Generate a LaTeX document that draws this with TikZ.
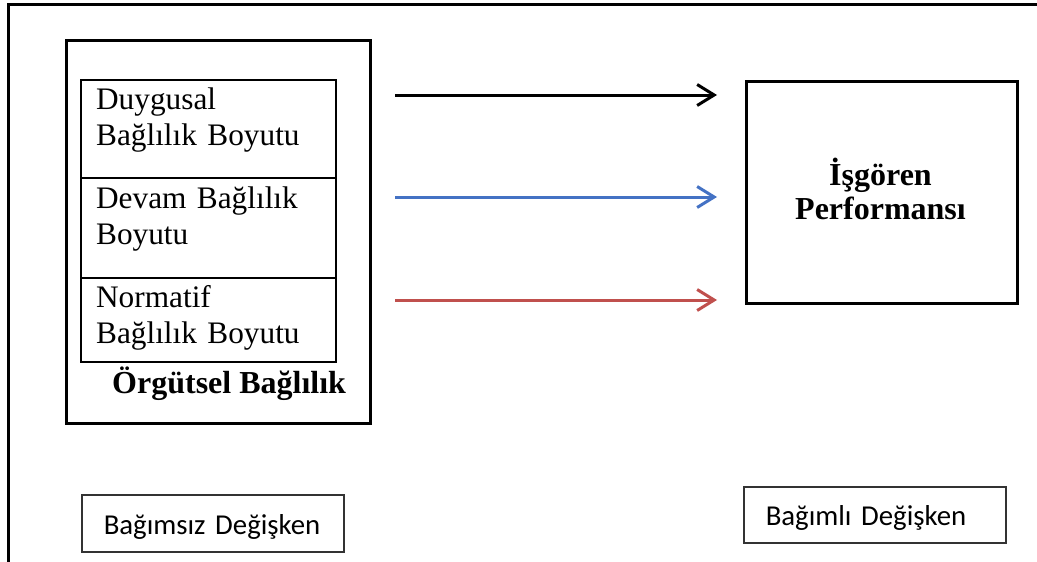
\documentclass[tikz,border=0pt]{standalone}
\usepackage{fontspec}
\setmainfont{Liberation Serif}
\newfontfamily\calibri{Carlito}
\usetikzlibrary{arrows.meta}
\definecolor{arrowblue}{RGB}{68,114,196}
\definecolor{arrowred}{RGB}{192,80,77}

\begin{document}
\begin{tikzpicture}[x=1pt,y=-1pt,
    frameline/.style={line width=3pt},
    bigbox/.style={draw,line width=3pt,anchor=north west,inner sep=0pt},
    dimbox/.style={draw,line width=2.3pt,anchor=base west,inner xsep=15pt,inner ysep=0pt,text width=225pt,align=left,font=\fontsize{31.3}{36}\selectfont},
    varbox/.style={draw=black!80,line width=1.5pt,anchor=base west,inner xsep=22pt,inner ysep=0pt,text width=218pt,align=left,text depth=18pt,font=\calibri\fontsize{28.8}{34}\selectfont},
    boldlabel/.style={font=\bfseries\fontsize{32}{34}\selectfont,inner sep=0pt},
    link/.style={line width=3pt,-{Straight Barb[length=17pt,width=21pt]}}]
    \useasboundingbox (0,0) rectangle (1037,562);
    \draw[frameline] (8,562) |- (1037,4);
    \node[bigbox,minimum width=304pt,minimum height=383pt] (orgutselbox) at (65,39) {};
    \node[dimbox,text height=29pt,text depth=69pt] (duygusal) at (80,109) {Duygusal\\Bağlılık Boyutu};
    \node[dimbox,text height=30pt,text depth=70pt] (devam) at (80,208) {Devam Bağlılık\\Boyutu};
    \node[dimbox,text height=29pt,text depth=55pt] (normatif) at (80,307) {Normatif\\Bağlılık Boyutu};
    \node[boldlabel,anchor=base west] (orgutsel) at (112,393) {Örgütsel Bağlılık};
    \node[bigbox,minimum width=271pt,minimum height=222pt] (performansbox) at (745,80) {};
    \node[boldlabel,anchor=base,text width=260pt,align=center] (performans) at (880.5,185) {İşgören\\Performansı};
    \foreach \y/\c/\n in {95/black/1,197/arrowblue/2,300/arrowred/3}{
        \coordinate (from\n) at (395,\y);
        \coordinate (to\n) at (717,\y);
        \draw[link,\c] (from\n) -- (to\n);
    }
    \node[varbox,text height=39pt] (bagimsiz) at (81,534) {Bağımsız Değişken};
    \node[varbox,text height=38pt] (bagimli) at (743,525) {Bağımlı Değişken};
\end{tikzpicture}
\end{document}
